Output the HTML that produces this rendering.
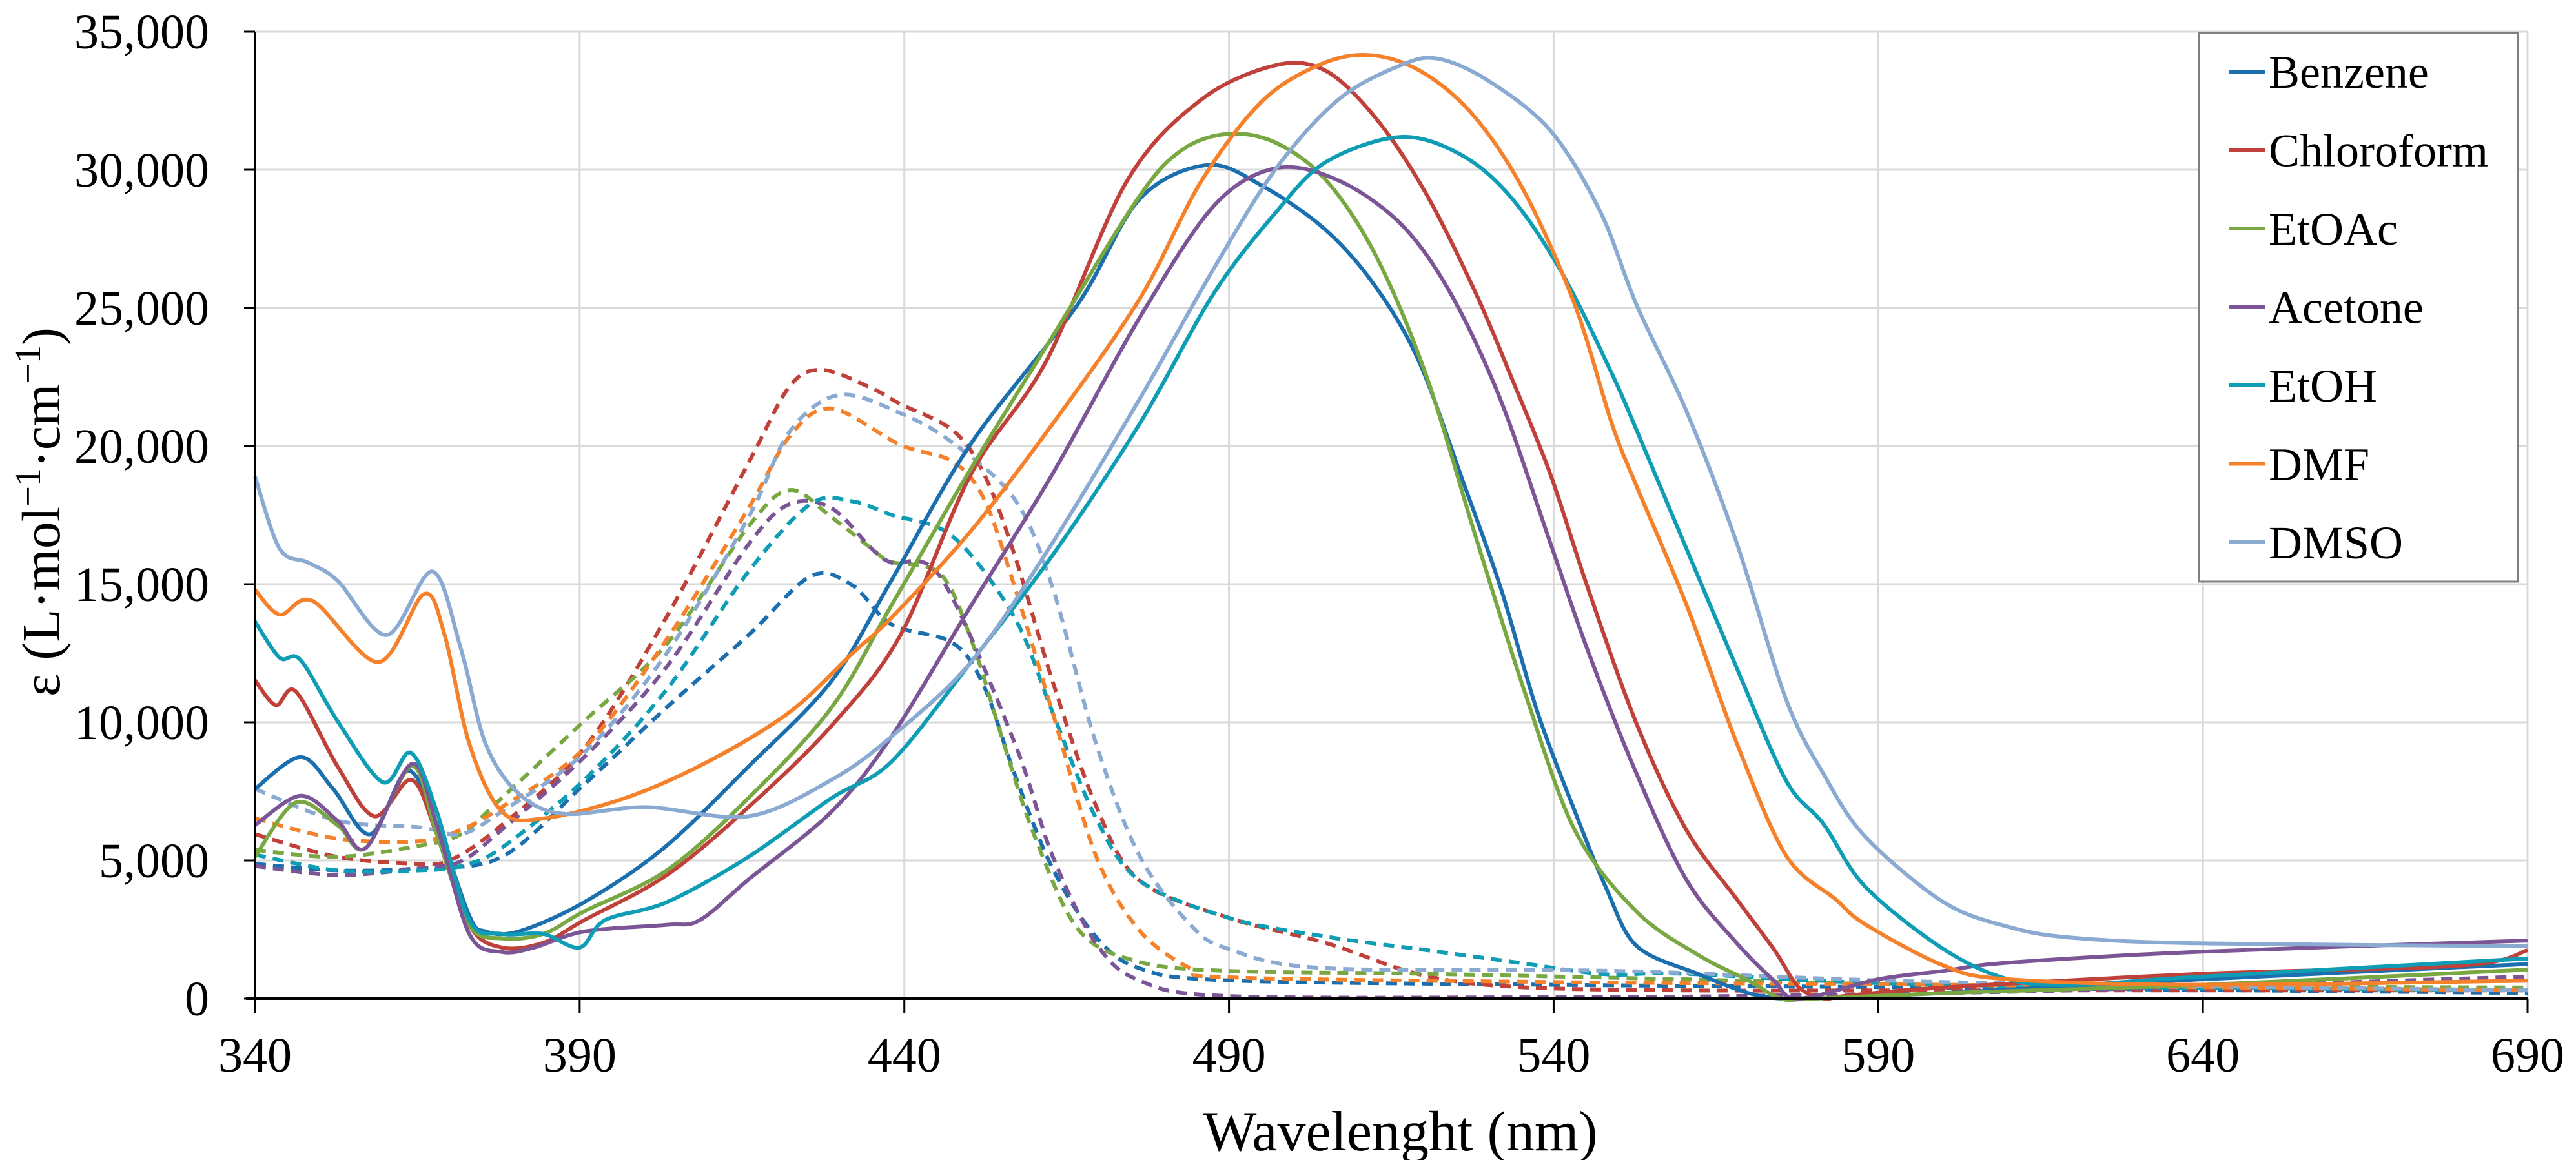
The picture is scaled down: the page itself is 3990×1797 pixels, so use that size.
<!DOCTYPE html>
<html><head><meta charset="utf-8"><style>
html,body{margin:0;padding:0;background:#fff;}
svg{display:block;font-family:"Liberation Serif","Times New Roman",serif;}
</style></head><body>
<svg id="chart" width="3990" height="1797" viewBox="0 0 3990 1797" xmlns="http://www.w3.org/2000/svg">
<g id="grid"></g>
<g id="series"></g>
<g id="axes"></g>
<text x="2169" y="1782" font-size="88" text-anchor="middle">Wavelenght (nm)</text>
<text transform="translate(92,793) rotate(-90)" font-size="84" text-anchor="middle">ε (L·mol<tspan dy="-30" font-size="56">−1</tspan><tspan dy="30">·cm</tspan><tspan dy="-30" font-size="56">−1</tspan><tspan dy="30">)</tspan></text>
<g id="legend"></g>
</svg>
<script>
// ---- data ----
const xTicks = [340, 390, 440, 490, 540, 590, 640, 690];
const yTicks = [0, 5000, 10000, 15000, 20000, 25000, 30000, 35000];
const yTickLabels = ["0","5,000","10,000","15,000","20,000","25,000","30,000","35,000"];
const seriesNames = ["Benzene","Chloroform","EtOAc","Acetone","EtOH","DMF","DMSO"];
const seriesColors = ["#1b6fae","#c0403a","#79a843","#7b5595","#0e9db5","#f5812b","#8aaad2"];

// solid (absorption) curves
const benzeneX = [340,347,352,357.8,363.5,368,373,375.5,380.6,390.7,403,416,428.8,438,450.3,466.6,476.2,486.7,495.4,505,512.6,519.3,526,531.8,537.5,543.3,548,552.8,562.4,570,575,580,600,640,690];
const benzeneY = [7590,8740,7600,5950,8250,6300,3000,2430,2430,3490,5460,8400,11500,15130,20100,25090,28930,30170,29380,27800,25760,23050,18750,14900,10380,6760,4050,1900,880,200,0,0,200,700,1250];
const chloroX = [340,343.2,346.3,352.7,358.4,364.1,368,373,378,384.4,390.7,403.4,416,428.8,439.4,450.3,461.8,474.3,485.8,497.3,505,512.6,520.3,528,533.7,539.5,545.2,552.8,560.5,568.2,573.9,577.7,581.6,585,600,640,680,690];
const chloroY = [11520,10620,11110,8410,6600,7920,5950,2670,1850,2020,2840,4470,6930,9880,13160,19000,23050,29600,32550,33790,33570,31870,29160,25540,22370,18980,14910,9930,6080,3600,1790,430,0,100,400,900,1200,1750];
const etoacX = [340,346.3,352.7,357.1,364.1,368,373,378,384.4,390.7,403.4,416,428.8,438,450.3,462.8,476.2,482.9,490,497.3,505,512.6,520.3,528,535.6,543.3,552.8,562.4,570,575,580,600,640,690];
const etoacY = [5130,7100,6280,5460,8410,5950,2670,2180,2340,3160,4640,7260,10540,14230,19200,23960,29040,30740,31300,30970,29610,26900,22610,16720,11060,6080,3140,1560,660,0,0,200,500,1050];
const acetoneX = [340,347,352.7,357.1,364.1,368,373,378,383,390.7,403.4,408.5,416,428.8,438,450.3,462.8,476.2,487.7,497.3,506.9,516.5,524.1,531.8,539.5,545.2,552.8,560.5,568.2,573.9,577.7,590,600,610,640,690];
const acetoneY = [6280,7340,6440,5460,8490,6280,2340,1690,1850,2430,2670,2840,4310,6770,9480,14230,18980,24630,28700,30060,29610,28030,25540,21690,16490,12640,8120,4280,2010,660,0,700,1000,1300,1700,2100];
const etohX = [340,343.8,347,352.7,359.7,364,368,373,378,384.4,390,393.9,403.4,416,428.8,438,450.3,462.8,476.2,487.7,497.3,505,516.5,526,533.7,541.4,549,552.8,560.5,568.2,575.8,581.6,588,600,610,620,640,690];
const etohY = [13650,12340,12260,10050,7830,8900,6770,2840,2340,2340,1850,2840,3490,5130,7260,8570,12190,16040,20790,25540,28480,30290,31190,30510,28930,26220,22610,20560,16260,11970,7890,6310,4050,1800,700,500,800,1450];
const dmfX = [340,343.8,348.9,359,366,369.2,373,378,384.4,397,409.7,422.4,432,438,450.3,462.8,476.2,485.8,495.4,505,512.6,520.3,528,535.6,543.3,549,552.8,560.5,568.2,575.8,583.4,588,600,610,640,690];
const dmfY = [14800,13900,14390,12180,14640,13160,9230,6770,6520,7260,8570,10380,12500,13780,16940,20790,25310,29610,32550,33900,34130,33460,31870,29160,25090,20790,18530,14230,9250,5180,3600,2690,1200,700,500,650];
const dmsoX = [340,343.8,348.2,352.7,360.3,367.3,371.7,375.5,380.6,387.5,400.2,416,428.8,438,450.3,462.8,476.2,487.7,497.3,506.9,516.5,522.2,529.9,539.5,547.2,552.8,560.5,568.2,575.8,581.6,588,600,610,620,640,690];
const dmsoY = [18900,16280,15780,15130,13160,15460,12670,9230,7420,6690,6930,6600,7920,9480,12190,16490,21690,26440,30060,32550,33790,34020,33230,31420,28480,25090,21240,16490,10830,8120,5860,3500,2600,2200,2000,1900];

// dashed (emission / second) curves
const dBenzeneX = [340,352.7,365.4,378,390.7,403.4,416,425.6,432,438,447.5,452.3,457,462.8,469.5,476.2,490,540,600,690];
const dBenzeneY = [4880,4640,4720,5130,7750,10540,13160,15290,14960,13550,12870,11290,8120,4730,2240,1100,660,500,400,200];
const dChloroX = [340,352.7,365.4,370.4,378,390.7,403.4,416,422.4,427.5,435,439.4,447.5,452.3,457,462.8,469.5,476.2,490,505,519.3,533.7,560,600,690];
const dChloroY = [5950,5130,4880,5050,6280,9060,13820,19390,22180,22750,22090,21520,20560,18980,16040,11510,6990,4280,2920,2010,880,430,300,300,300];
const dEtoacX = [340,352.7,365.4,371.7,378,390.7,403.4,416,422.4,428.8,435,438,445.6,450.5,455.3,460.1,466.9,476.2,490,520,560,600,690];
const dEtoacY = [5380,5130,5540,5950,7260,10050,12830,17090,18410,17420,16280,15810,15360,12870,9250,5860,2470,1330,1000,900,700,500,400];
const dAcetoneX = [340,352.7,365.4,371.7,378,390.7,403.4,416,422.4,428.8,435,438,445.6,457,462.8,469.5,476.2,490,540,570,620,690];
const dAcetoneY = [4800,4470,4720,4970,6110,8740,12010,16440,17910,17750,16280,15780,15250,9250,5180,2010,660,90,50,100,300,800];
const dEtohX = [340,352.7,365.4,371.7,378,390.7,403.4,416,425.6,432,438,447.5,457,462.8,469.5,476.2,490,505,519.3,533.7,548,560,600,690];
const dEtohY = [5210,4640,4640,4800,5460,7920,11190,15460,17910,18000,17510,16720,13780,10380,6540,4280,2920,2240,1790,1330,880,900,500,300];
const dDmfX = [340,352.7,365.4,371.7,378,390.7,403.4,416,422.4,428.8,439.4,447.5,452.3,457,462.8,469.5,476.2,484,490,540,600,690];
const dDmfY = [6520,5790,5700,6110,6930,9060,13000,17750,20370,21360,20040,19430,18070,14900,10380,5180,2470,1100,770,600,500,300];
const dDmsoX = [340,352.7,365.4,371.7,378,390.7,403.4,416,422.4,430,439.4,447.5,457,462.8,469.5,476.2,484,490,505,550,600,690];
const dDmsoY = [7590,6440,6200,5950,6770,8900,12500,17420,20540,21850,21190,20110,18070,14900,9250,5180,2690,1790,1100,1000,600,300];

const solidSeries = [[benzeneX,benzeneY],[chloroX,chloroY],[etoacX,etoacY],[acetoneX,acetoneY],[etohX,etohY],[dmfX,dmfY],[dmsoX,dmsoY]];
const dashedSeries = [[dBenzeneX,dBenzeneY],[dChloroX,dChloroY],[dEtoacX,dEtoacY],[dAcetoneX,dAcetoneY],[dEtohX,dEtohY],[dDmfX,dDmfY],[dDmsoX,dDmsoY]];

// ---- layout ----
const X0 = 395, X1 = 3915, Y0 = 1547, Y1 = 49;
const XMIN = 340, XMAX = 690, YMIN = 0, YMAX = 35000;
function xs(v){ return X0 + (v - XMIN) / (XMAX - XMIN) * (X1 - X0); }
function ys(v){ return Y0 - (v - YMIN) / (YMAX - YMIN) * (Y0 - Y1); }
const NS = "http://www.w3.org/2000/svg";
function mk(tag, attrs, parent){
  const e = document.createElementNS(NS, tag);
  for (const k in attrs) e.setAttribute(k, attrs[k]);
  parent.appendChild(e);
  return e;
}
function pathD(xa, ya){
  const p = xa.map((x,i)=>[xs(x), ys(ya[i])]);
  let d = "M" + p[0][0].toFixed(1) + "," + p[0][1].toFixed(1);
  for (let i=0;i<p.length-1;i++){
    const p0 = p[Math.max(0,i-1)], p1 = p[i], p2 = p[i+1], p3 = p[Math.min(p.length-1,i+2)];
    const t = 0.16;
    const c1x = p1[0] + (p2[0]-p0[0])*t, c1y = p1[1] + (p2[1]-p0[1])*t;
    const c2x = p2[0] - (p3[0]-p1[0])*t, c2y = p2[1] - (p3[1]-p1[1])*t;
    d += " C" + c1x.toFixed(1)+","+c1y.toFixed(1)+" "+c2x.toFixed(1)+","+c2y.toFixed(1)+" "+p2[0].toFixed(1)+","+p2[1].toFixed(1);
  }
  return d;
}

const grid = document.getElementById("grid");
yTicks.forEach(v=>{
  if (v === 0) return;
  const l = mk("line",{x1:X0,x2:X1,y1:ys(v),y2:ys(v),stroke:"#d9d9d9","stroke-width":3},grid);
  
  
});
xTicks.forEach(v=>{
  if (v === XMIN) return;
  const l = mk("line",{x1:xs(v),x2:xs(v),y1:Y1,y2:Y0,stroke:"#d9d9d9","stroke-width":3},grid);
  
  
});

const sg = document.getElementById("series");
dashedSeries.forEach((s,i)=>{
  const p = mk("path",{d:pathD(s[0],s[1]),fill:"none",stroke:seriesColors[i],"stroke-width":6,"stroke-dasharray":"17 11","stroke-linejoin":"round"},sg);
  
  
});
solidSeries.forEach((s,i)=>{
  const p = mk("path",{d:pathD(s[0],s[1]),fill:"none",stroke:seriesColors[i],"stroke-width":6,"stroke-linejoin":"round"},sg);
  
  
});

const ax = document.getElementById("axes");
const ya = mk("line",{x1:X0,x2:X0,y1:Y1,y2:Y0,stroke:"#000","stroke-width":4},ax);


const xa = mk("line",{x1:X0-14,x2:X1,y1:Y0,y2:Y0,stroke:"#000","stroke-width":4},ax);


yTicks.forEach((v,i)=>{
  const t = mk("line",{x1:X0-17,x2:X0,y1:ys(v),y2:ys(v),stroke:"#000","stroke-width":3},ax);
  
  
  const tx = mk("text",{x:324,y:ys(v)+26,"font-size":76,"text-anchor":"end",fill:"#000"},ax);
  tx.textContent = yTickLabels[i];
  
  
});
xTicks.forEach(v=>{
  const t = mk("line",{x1:xs(v),x2:xs(v),y1:Y0,y2:Y0+22,stroke:"#000","stroke-width":3},ax);
  
  
  const tx = mk("text",{x:xs(v),y:1660,"font-size":76,"text-anchor":"middle",fill:"#000"},ax);
  tx.textContent = String(v);
  
  
});

const lg = document.getElementById("legend");
const box = mk("rect",{x:3406,y:51,width:494,height:850,fill:"#fff",stroke:"#7f7f7f","stroke-width":3},lg);


seriesNames.forEach((n,i)=>{
  const cy = 111 + i*121.5;
  const l = mk("line",{x1:3452,x2:3509,y1:cy,y2:cy,stroke:seriesColors[i],"stroke-width":6},lg);
  
  
  const t = mk("text",{x:3514,y:cy+25,"font-size":72,fill:"#000"},lg);
  t.textContent = n;
  
  
});
</script>
</body></html>
